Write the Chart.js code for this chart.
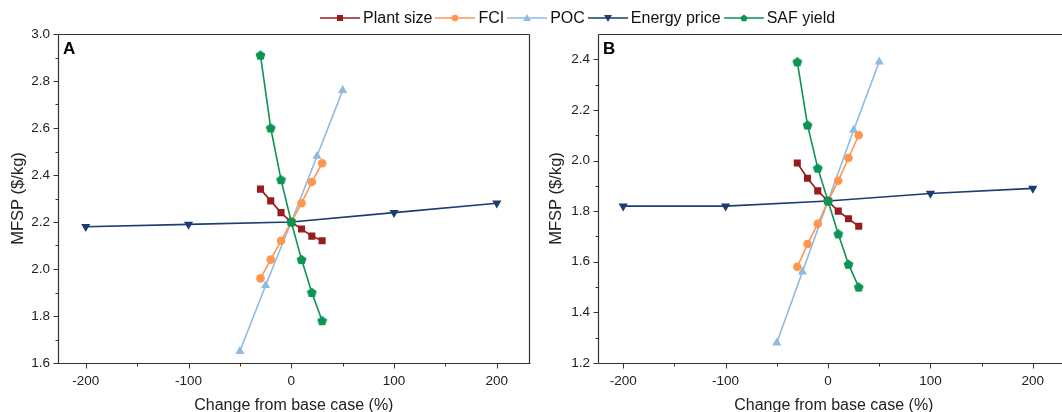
<!DOCTYPE html>
<html>
<head>
<meta charset="utf-8">
<script src="https://cdn.jsdelivr.net/npm/chart.js@4.4.1/dist/chart.umd.min.js"></script>
<style>
    body { margin: 0; background: #fff; font-family: "Liberation Sans", Arial, sans-serif; }
    #wrap { position: relative; width: 1062px; height: 412px; overflow: hidden; }
    #chartA { position: absolute; left: 0; top: 0; }
    #chartB { position: absolute; left: 535px; top: 0; }
    .panel { position: absolute; font-weight: bold; font-size: 17px; color: #000; }
    #legend { position: absolute; left: 320px; top: 9px; display: flex; align-items: center;
              font-size: 16px; color: #111; white-space: nowrap; }
    #legend .item { display: flex; align-items: center; margin-right: 3px; }
    #legend svg { margin-right: 3px; }
</style>
</head>
<body>
<div id="wrap">
    <canvas id="chartA" width="535" height="412"></canvas>
    <canvas id="chartB" width="540" height="412"></canvas>
    <div class="panel" style="left:63px; top:39px;">A</div>
    <div class="panel" style="left:603px; top:39px;">B</div>
    <div id="legend"></div>
</div>
<script>
// series names and colours
const seriesNames = ['Plant size', 'FCI', 'POC', 'Energy price', 'SAF yield'];
const seriesColors = ['#981B1E', '#FF9650', '#8FBBE2', '#1B3D70', '#0A9553'];

// x values (% change from base case)
const sizeX = [-30, -20, -10, 0, 10, 20, 30];
const pocX = [-50, -25, 0, 25, 50];
const energyX = [-200, -100, 0, 100, 200];

// panel A - MFSP ($/kg)
const plantA = [2.34, 2.29, 2.24, 2.20, 2.17, 2.14, 2.12];
const fciA = [1.96, 2.04, 2.12, 2.20, 2.28, 2.37, 2.45];
const pocA = [1.65, 1.93, 2.20, 2.48, 2.76];
const energyA = [2.18, 2.19, 2.20, 2.24, 2.28];
const safA = [2.91, 2.60, 2.38, 2.20, 2.04, 1.90, 1.78];

// panel B - MFSP ($/kg)
const plantB = [1.99, 1.93, 1.88, 1.84, 1.80, 1.77, 1.74];
const fciB = [1.58, 1.67, 1.75, 1.84, 1.92, 2.01, 2.10];
const pocB = [1.28, 1.56, 1.84, 2.12, 2.39];
const energyB = [1.82, 1.82, 1.84, 1.87, 1.89];
const safB = [2.39, 2.14, 1.97, 1.84, 1.71, 1.59, 1.50];

// tick labels
const xTicks = [-200, -100, 0, 100, 200];
const yTicksA = [1.6, 1.8, 2.0, 2.2, 2.4, 2.6, 2.8, 3.0];
const yTicksB = [1.2, 1.4, 1.6, 1.8, 2.0, 2.2, 2.4];

const FONT = '"Liberation Sans", Arial, sans-serif';

function pentagonPath(cx, cy, r) {
    const pts = [];
    for (let i = 0; i < 5; i++) {
        const a = -Math.PI / 2 + i * 2 * Math.PI / 5;
        pts.push([cx + r * Math.cos(a), cy + r * Math.sin(a)]);
    }
    return pts;
}

function makePentagon(color, size) {
    const c = document.createElement('canvas');
    c.width = size;
    c.height = size;
    const ctx = c.getContext('2d');
    const pts = pentagonPath(size / 2, size / 2 + 0.4, size / 2 - 0.3);
    ctx.beginPath();
    pts.forEach((p, i) => i ? ctx.lineTo(p[0], p[1]) : ctx.moveTo(p[0], p[1]));
    ctx.closePath();
    ctx.fillStyle = color;
    ctx.fill();
    return c;
}

// outward major/minor ticks and frame, drawn through the scales
const frameTicks = {
    id: 'frameTicks',
    afterDraw(chart, args, opts) {
        const { ctx, chartArea: a, scales: { x, y } } = chart;
        const L = Math.round(a.left) + 0.5, R = Math.round(a.right) - 0.5;
        const T = Math.round(a.top) + 0.5, B = Math.round(a.bottom) + 0.5;
        ctx.save();
        ctx.strokeStyle = '#333';
        ctx.lineWidth = 1.2;
        ctx.beginPath();
        ctx.moveTo(L, T); ctx.lineTo(R, T);
        ctx.moveTo(L, T); ctx.lineTo(L, B);
        ctx.moveTo(L, B); ctx.lineTo(R + 1, B);
        if (opts.rightFrame) { ctx.moveTo(R, T); ctx.lineTo(R, B); }
        ctx.stroke();

        ctx.lineWidth = 1;
        ctx.beginPath();
        const xv = x.ticks.map(t => t.value);
        const yv = y.ticks.map(t => t.value);
        xv.forEach(v => {
            const px = Math.round(x.getPixelForValue(v)) + 0.5;
            ctx.moveTo(px, B); ctx.lineTo(px, B + 5);
        });
        for (let i = 0; i < xv.length - 1; i++) {
            const px = Math.round(x.getPixelForValue((xv[i] + xv[i + 1]) / 2)) + 0.5;
            ctx.moveTo(px, B); ctx.lineTo(px, B + 3);
        }
        yv.forEach(v => {
            const py = Math.round(y.getPixelForValue(v)) + 0.5;
            ctx.moveTo(L, py); ctx.lineTo(L - 5, py);
        });
        for (let i = 0; i < yv.length - 1; i++) {
            const py = Math.round(y.getPixelForValue((yv[i] + yv[i + 1]) / 2)) + 0.5;
            ctx.moveTo(L, py); ctx.lineTo(L - 3, py);
        }
        ctx.stroke();
        ctx.restore();
    }
};

function buildDatasets(plant, fci, poc, energy, saf) {
    const toPts = (xs, ys) => xs.map((v, i) => ({ x: v, y: ys[i] }));
    const base = { borderWidth: 1.6, showLine: true, pointBorderWidth: 0 };
    return [
        { ...base, label: seriesNames[0], data: toPts(sizeX, plant), borderColor: seriesColors[0],
          backgroundColor: seriesColors[0], pointStyle: 'rect', pointRadius: 5, order: 2 },
        { ...base, label: seriesNames[1], data: toPts(sizeX, fci), borderColor: seriesColors[1],
          backgroundColor: seriesColors[1], pointStyle: 'circle', pointRadius: 4.3, order: 3 },
        { ...base, label: seriesNames[2], data: toPts(pocX, poc), borderColor: seriesColors[2],
          backgroundColor: seriesColors[2], pointStyle: 'triangle', pointRadius: 5.3, order: 4 },
        { ...base, label: seriesNames[3], data: toPts(energyX, energy), borderColor: seriesColors[3],
          backgroundColor: seriesColors[3], pointStyle: 'triangle', pointRotation: 180, pointRadius: 5.3, order: 5 },
        { ...base, label: seriesNames[4], data: toPts(sizeX, saf), borderColor: seriesColors[4],
          backgroundColor: seriesColors[4], pointStyle: makePentagon(seriesColors[4], 11), order: 1 }
    ];
}

function makeChart(id, datasets, cfg) {
    return new Chart(document.getElementById(id), {
        type: 'scatter',
        data: { datasets: datasets },
        options: {
            responsive: false,
            animation: false,
            layout: { padding: { top: 34, right: cfg.padRight, left: 0, bottom: 0 } },
            plugins: {
                legend: { display: false },
                tooltip: { enabled: false },
                frameTicks: { rightFrame: cfg.rightFrame }
            },
            scales: {
                x: {
                    type: 'linear',
                    min: cfg.xMin,
                    max: cfg.xMax,
                    afterBuildTicks: s => { s.ticks = xTicks.map(v => ({ value: v })); },
                    afterFit: s => { s.height = 49; },
                    grid: { display: false, drawTicks: false },
                    border: { display: false },
                    ticks: { padding: 10, color: '#222', font: { family: FONT, size: 13.5 }, maxRotation: 0 },
                    title: { display: true, text: 'Change from base case (%)', color: '#222',
                             font: { family: FONT, size: 16 }, padding: { top: 0, bottom: -3 } }
                },
                y: {
                    type: 'linear',
                    min: cfg.yMin,
                    max: cfg.yMax,
                    afterBuildTicks: s => { s.ticks = cfg.yTicks.map(v => ({ value: v })); },
                    afterFit: s => { s.width = cfg.yWidth; },
                    grid: { display: false, drawTicks: false },
                    border: { display: false },
                    ticks: { padding: 8, color: '#222', font: { family: FONT, size: 13.5 },
                             callback: v => Number(v).toFixed(1) },
                    title: { display: true, text: 'MFSP ($/kg)', color: '#222',
                             font: { family: FONT, size: 16.5 }, padding: { top: cfg.yTitlePad, bottom: 0 } }
                }
            }
        },
        plugins: [frameTicks]
    });
}

makeChart('chartA', buildDatasets(plantA, fciA, pocA, energyA, safA), {
    xMin: -227, xMax: 232, yMin: 1.6, yMax: 3.0, yTicks: yTicksA,
    yWidth: 58, yTitlePad: 9, padRight: 3, rightFrame: true
});

// panel B runs past the right edge of the picture
makeChart('chartB', buildDatasets(plantB, fciB, pocB, energyB, safB), {
    xMin: -224.6, xMax: 236, yMin: 1.2, yMax: 2.5, yTicks: yTicksB,
    yWidth: 63, yTitlePad: 12, padRight: 0, rightFrame: false
});

// shared legend (line - marker - line)
function legendMarker(i, color) {
    if (i === 0) return `<rect x="17" y="3" width="6" height="6" fill="${color}"/>`;
    if (i === 1) return `<circle cx="20" cy="6" r="3.3" fill="${color}"/>`;
    if (i === 2) return `<polygon points="20,2 24,9 16,9" fill="${color}"/>`;
    if (i === 3) return `<polygon points="16,3 24,3 20,10" fill="${color}"/>`;
    const pts = pentagonPath(20, 6.3, 3.8).map(p => p.join(',')).join(' ');
    return `<polygon points="${pts}" fill="${color}"/>`;
}

const legend = document.getElementById('legend');
seriesNames.forEach((name, i) => {
    const item = document.createElement('div');
    item.className = 'item';
    item.innerHTML = `<svg width="40" height="12"><line x1="0" y1="6" x2="40" y2="6" stroke="${seriesColors[i]}" stroke-width="1.6"/>${legendMarker(i, seriesColors[i])}</svg><span>${name}</span>`;
    legend.appendChild(item);
});
</script>
</body>
</html>
